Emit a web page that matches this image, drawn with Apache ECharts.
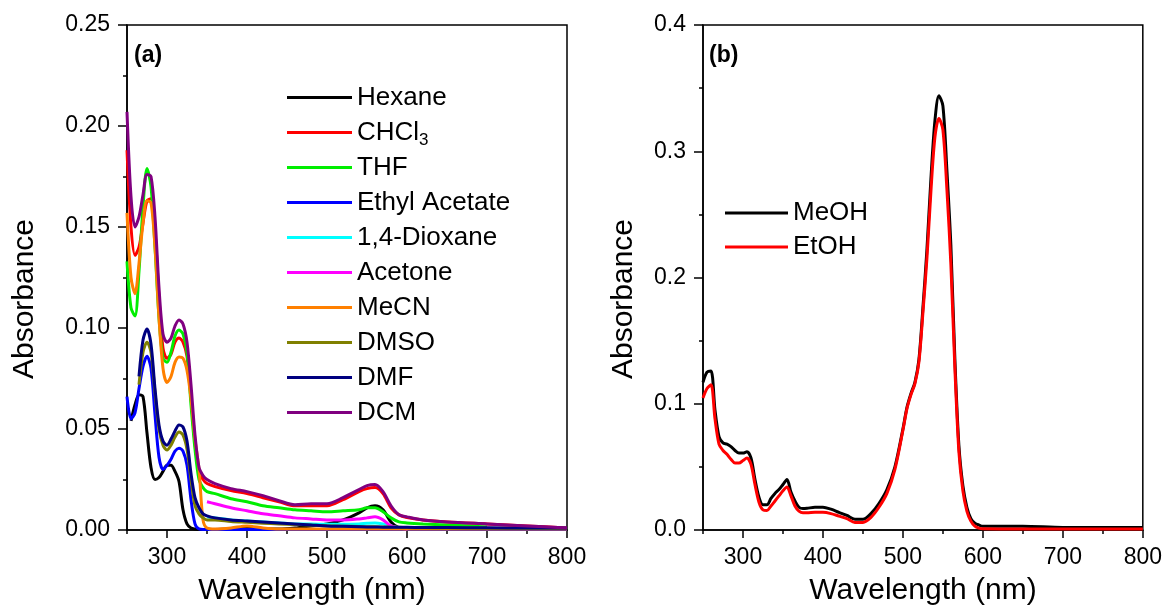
<!DOCTYPE html>
<html><head><meta charset="utf-8">
<script src="https://cdn.jsdelivr.net/npm/echarts@6/dist/echarts.min.js"></script>
<style>html,body{margin:0;padding:0;background:#fff}#c{width:1165px;height:608px}</style>
</head><body><div id="c"></div>
<script>
// ---------- Panel (a) data ----------
const WL_A = [250,255,260,265,270,275,280,285,290,295,300,305,310,315,320,325,330,335,340,345,350,360,380,400,420,440,460,480,500,520,540,550,560,570,580,590,600,620,650,700,750,800];
const hexane  = [null,0.054,0.062,0.067,0.066,0.048,0.031,0.025,0.026,0.029,0.032,0.032,0.029,0.024,0.010,0.003,0.001,0.0005,0.0003,0.0003,0.0003,0.0003,0.0005,0.001,0.0005,0.0005,0.001,0.002,0.003,0.005,0.0085,0.011,0.012,0.010,0.004,0.001,0.0005,0.0003,0.0003,0.0003,0.0003,0.0003];
const chcl3   = [0.188,0.150,0.136,0.140,0.152,0.163,0.164,0.148,0.115,0.090,0.085,0.087,0.093,0.095,0.093,0.086,0.066,0.043,0.029,0.025,0.023,0.0215,0.0195,0.018,0.016,0.014,0.012,0.012,0.012,0.015,0.019,0.0205,0.021,0.018,0.011,0.0075,0.0062,0.005,0.004,0.003,0.002,0.001];
const thf     = [0.133,0.110,0.106,0.128,0.160,0.179,0.170,0.140,0.105,0.085,0.083,0.088,0.096,0.099,0.097,0.088,0.062,0.040,0.025,0.021,0.019,0.018,0.0155,0.014,0.012,0.011,0.010,0.0095,0.009,0.0095,0.010,0.011,0.011,0.009,0.006,0.004,0.0035,0.003,0.0025,0.0015,null,null];
const ethylAc = [0.066,0.055,0.058,0.070,0.081,0.086,0.080,0.057,0.036,0.030,0.032,0.035,0.039,0.0405,0.039,0.032,0.015,0.003,0.0005,0.0003,0.0003,0.0003,0.0003,0.0003,0.0003,0.0003,0.0003,0.0003,0.0003,0.0003,0.0003,0.0003,0.0003,0.0003,0.0003,0.0003,0.0003,0.0003,0.0003,0.0003,0.0003,0.0003];
const dioxane = [null,null,null,null,null,null,null,null,null,null,null,null,null,null,null,null,null,null,null,null,0.0065,0.006,0.005,0.0045,0.004,0.0035,0.003,0.003,0.0028,0.0028,0.003,0.0033,0.0035,0.003,0.002,0.0012,0.001,null,null,null,null,null];
const acetone = [null,null,null,null,null,null,null,null,null,null,null,null,null,null,null,null,null,null,null,null,0.014,0.013,0.011,0.0095,0.008,0.007,0.006,0.0055,0.005,0.005,0.0055,0.006,0.0065,0.005,0.002,0.001,0.0005,null,null,null,null,null];
const mecn    = [0.157,0.125,0.117,0.132,0.152,0.163,0.162,0.140,0.105,0.080,0.073,0.076,0.083,0.0857,0.085,0.079,0.065,0.045,0.030,0.005,0.001,0.0005,0.001,0.002,0.001,0.0005,0.0005,0.0005,0.0005,0.0005,0.0005,0.0005,0.0005,0.0005,0.0005,0.0005,0.0005,0.0005,0.0005,0.0005,0.0005,0.0005];
const dmso    = [null,null,null,0.072,0.088,0.093,0.088,0.068,0.050,0.042,0.0396,0.042,0.046,0.0485,0.047,0.040,0.025,0.012,0.008,0.006,0.005,0.005,0.0042,0.0038,0.0034,0.003,0.0027,0.0024,0.0021,0.0019,0.0017,0.0016,0.0016,0.0015,0.0014,0.0013,0.0012,0.0011,0.001,0.0009,0.0008,0.0007];
const dmf     = [null,null,null,0.076,0.094,0.0995,0.092,0.070,0.052,0.044,0.042,0.045,0.049,0.052,0.051,0.044,0.028,0.016,0.011,0.008,0.007,0.006,0.005,0.0045,0.004,0.0035,0.003,0.0025,0.002,0.0018,0.0016,0.0015,0.0015,0.0014,0.0014,0.0013,0.0013,0.0012,0.0012,0.0011,0.001,0.001];
const dcm     = [0.207,0.165,0.150,0.155,0.166,0.176,0.175,0.155,0.120,0.097,0.093,0.095,0.101,0.104,0.102,0.093,0.072,0.047,0.031,0.027,0.025,0.023,0.0205,0.019,0.017,0.0145,0.0125,0.013,0.013,0.016,0.020,0.022,0.0225,0.019,0.012,0.0075,0.0065,0.005,0.004,0.003,0.002,0.001];

// ---------- Panel (b) data ----------
const WL_B = [250,255,260,265,270,275,280,285,290,295,300,305,310,315,320,325,330,335,340,345,350,355,360,365,370,375,380,390,400,410,420,430,440,450,460,470,480,490,500,505,510,515,520,525,530,535,540,545,550,555,560,565,570,575,580,585,590,595,600,650,700,750,800];
const meoh = [0.117,0.125,0.126,0.095,0.074,0.069,0.068,0.066,0.063,0.061,0.061,0.062,0.057,0.040,0.026,0.020,0.020,0.025,0.029,0.032,0.036,0.040,0.030,0.023,0.018,0.017,0.0172,0.018,0.018,0.0165,0.014,0.0115,0.0085,0.0085,0.013,0.021,0.032,0.050,0.080,0.097,0.108,0.117,0.135,0.176,0.222,0.278,0.324,0.344,0.336,0.285,0.225,0.135,0.067,0.035,0.018,0.009,0.0055,0.004,0.003,0.003,0.002,0.002,0.002];
const etoh = [0.1045,0.112,0.115,0.088,0.068,0.063,0.060,0.056,0.053,0.053,0.055,0.057,0.052,0.036,0.022,0.016,0.0155,0.019,0.023,0.027,0.031,0.034,0.027,0.019,0.015,0.0137,0.0137,0.014,0.014,0.013,0.011,0.009,0.006,0.006,0.010,0.018,0.029,0.048,0.079,0.096,0.107,0.116,0.133,0.172,0.215,0.268,0.311,0.326,0.317,0.270,0.210,0.128,0.062,0.031,0.015,0.007,0.003,0.0015,0.001,0.0008,0.0008,0.0008,0.0008];

// ---------- Tick values ----------
const X_MAJOR = [300,400,500,600,700,800];
const Y_MAJOR_A = [0,0.05,0.10,0.15,0.20,0.25];
const Y_MAJOR_B = [0,0.1,0.2,0.3,0.4];

const namesA = ['Hexane','CHCl3','THF','Ethyl Acetate','1,4-Dioxane','Acetone','MeCN','DMSO','DMF','DCM'];
const dataA = [hexane,chcl3,thf,ethylAc,dioxane,acetone,mecn,dmso,dmf,dcm];
const colorsA = ['#000000','#ff0000','#00ee00','#0000ff','#00ffff','#ff00ff','#ff8000','#808000','#000080','#800080'];
const namesB = ['MeOH','EtOH'];
const dataB = [meoh,etoh];
const colorsB = ['#000000','#ff0000'];

function pairs(wl, vals){ const out=[]; for(let i=0;i<wl.length;i++){ if(vals[i]!==null) out.push([wl[i], vals[i]]); } return out; }

const FONT = "'Liberation Sans', Arial, sans-serif";
const chart = echarts.init(document.getElementById('c'), null, {renderer:'canvas'});

function xAxes(gi){
  return [
    {type:'value', gridIndex:gi, min:250, max:800, interval:50,
     axisLine:{show:true, onZero:false, lineStyle:{color:'#000', width:1.5}},
     axisTick:{show:true, customValues:X_MAJOR, length:8, lineStyle:{color:'#000', width:1.5}},
     axisLabel:{customValues:X_MAJOR, color:'#000', fontSize:23, fontFamily:FONT, margin:16},
     splitLine:{show:false}},
    {type:'value', gridIndex:gi, min:250, max:800, interval:50, position:'bottom',
     axisLine:{show:false}, axisLabel:{show:false}, splitLine:{show:false},
     axisTick:{show:true, length:4, lineStyle:{color:'#000', width:1.5}}}
  ];
}
function yAxis(gi, max, interval, majors, dec){
  return {type:'value', gridIndex:gi, min:0, max:max, interval:interval,
    axisLine:{show:true, onZero:false, lineStyle:{color:'#000', width:1.5}},
    axisTick:{show:true, customValues:majors, length:9, lineStyle:{color:'#000', width:1.5}},
    minorTick:{show:true, splitNumber:2, length:4, lineStyle:{color:'#000', width:1.5}},
    axisLabel:{customValues:majors, color:'#000', fontSize:23, fontFamily:FONT, margin:17,
      formatter:v=>v.toFixed(dec)},
    splitLine:{show:false}, minorSplitLine:{show:false}};
}

const series = [];
namesA.forEach((n,i)=>series.push({name:n, type:'line', xAxisIndex:0, yAxisIndex:0, data:pairs(WL_A,dataA[i]),
  smooth:0.3, symbol:'none', lineStyle:{width:3, color:colorsA[i]}, itemStyle:{color:colorsA[i]}, z:2+i}));
namesB.forEach((n,i)=>series.push({name:n, type:'line', xAxisIndex:2, yAxisIndex:1, data:pairs(WL_B,dataB[i]),
  smooth:0.3, symbol:'none', lineStyle:{width:3, color:colorsB[i]}, itemStyle:{color:colorsB[i]}, z:2+i}));

const legendText = {color:'#000', fontSize:26, fontFamily:FONT, lineHeight:35,
  rich:{s:{fontSize:17, fontFamily:FONT, color:'#000', padding:[15,0,0,0]}}};

chart.setOption({
  animation:false,
  backgroundColor:'#fff',
  grid:[
    {left:127, top:25, width:440, height:505, show:true, borderColor:'#000', borderWidth:1.5, backgroundColor:'transparent'},
    {left:703, top:25, width:440, height:505, show:true, borderColor:'#000', borderWidth:1.5, backgroundColor:'transparent'}
  ],
  xAxis:[...xAxes(0), ...xAxes(1)],
  yAxis:[yAxis(0,0.25,0.05,Y_MAJOR_A,2), yAxis(1,0.4,0.1,Y_MAJOR_B,1)],
  legend:[
    {data:namesA, orient:'vertical', left:287, top:80, padding:0, itemWidth:65, itemHeight:3, itemGap:0,
     icon:'rect', textStyle:legendText, selectedMode:false,
     formatter:n=> n==='CHCl3' ? 'CHCl{s|3}' : n},
    {data:namesB, orient:'vertical', left:725, top:196, padding:0, itemWidth:63, itemHeight:3, itemGap:0,
     icon:'rect', textStyle:Object.assign({}, legendText, {lineHeight:34}), selectedMode:false}
  ],
  graphic:[
    {type:'text', left:134, top:44, style:{text:'(a)', font:"bold 23px 'Liberation Sans', Arial", fill:'#000'}},
    {type:'text', left:709, top:44, style:{text:'(b)', font:"bold 23px 'Liberation Sans', Arial", fill:'#000'}},
    {type:'text', x:312, y:591, style:{text:'Wavelength (nm)', font:"30px 'Liberation Sans', Arial", fill:'#000', align:'center', verticalAlign:'middle'}},
    {type:'text', x:923, y:591, style:{text:'Wavelength (nm)', font:"30px 'Liberation Sans', Arial", fill:'#000', align:'center', verticalAlign:'middle'}},
    {type:'text', x:25, y:299, rotation:Math.PI/2, style:{text:'Absorbance', font:"30px 'Liberation Sans', Arial", fill:'#000', align:'center', verticalAlign:'middle'}},
    {type:'text', x:624, y:299, rotation:Math.PI/2, style:{text:'Absorbance', font:"30px 'Liberation Sans', Arial", fill:'#000', align:'center', verticalAlign:'middle'}}
  ],
  series:series
});
</script></body></html>
